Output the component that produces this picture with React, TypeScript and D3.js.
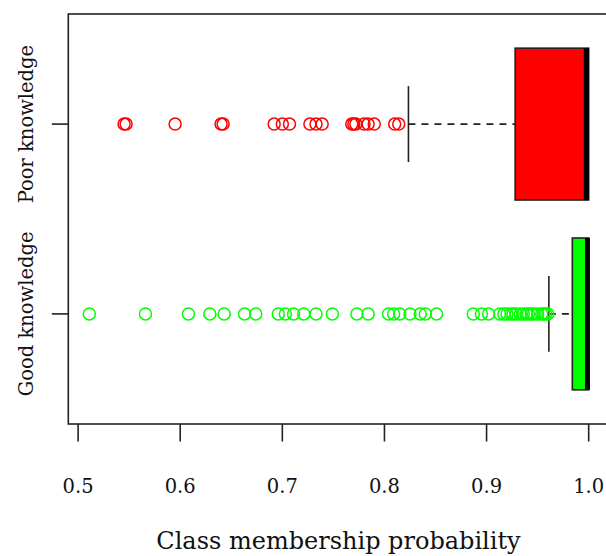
import React from 'react';
import * as d3 from 'd3';

// group labels (bottom to top, like R boxplot positions 1, 2)
const groups = ['Good knowledge', 'Poor knowledge'];
const fills = ['#00ff00', '#ff0000'];

// five number summary per group: lower whisker, q1, median, q3, upper whisker
const lowWhisker = [0.961, 0.8235];
const q1 = [0.984, 0.928];
const median = [0.9988, 0.9977];
const q3 = [1.0, 1.0];
const highWhisker = [1.0, 1.0];

const goodOutliers = [
  0.511, 0.566, 0.608, 0.629, 0.643, 0.663, 0.674, 0.696, 0.703, 0.711, 0.721,
  0.733, 0.749, 0.773, 0.784, 0.804, 0.809, 0.815, 0.825, 0.835, 0.84, 0.851,
  0.887, 0.895, 0.902, 0.913, 0.917, 0.92, 0.924, 0.926, 0.929, 0.933, 0.936,
  0.939, 0.941, 0.944, 0.946, 0.95, 0.954, 0.956, 0.958, 0.96,
];
const poorOutliers = [
  0.545, 0.547, 0.595, 0.64, 0.642, 0.692, 0.7, 0.707, 0.727, 0.733, 0.739,
  0.768, 0.77, 0.772, 0.78, 0.784, 0.79, 0.81, 0.814,
];
const outliers = [goodOutliers, poorOutliers];

const xTicks = [0.5, 0.6, 0.7, 0.8, 0.9, 1.0];
const xTitle = 'Class membership probability';

const W = 606;
const H = 556;
const left = 68.3;
const right = 608.7;
const top = 14;
const bottom = 424;

export default function App() {
  const x = d3.scaleLinear().domain([0.4904, 1.0196]).range([left, right]);
  const y = d3.scaleLinear().domain([0.42, 2.58]).range([bottom, top]);
  const boxHalf = y(0) - y(0.4);
  const stapleHalf = y(0) - y(0.2);
  const axisCol = '#222';
  const font = 'DejaVu Serif';

  return (
    <svg
      width={W}
      height={H}
      style={{ position: 'fixed', left: 0, top: 0, background: '#fff' }}
    >
      {groups.map((g, i) => {
        const cy = y(i + 1);
        return (
          <g key={g}>
            {/* whisker */}
            <line x1={x(lowWhisker[i])} x2={x(q1[i])} y1={cy} y2={cy}
              stroke={axisCol} strokeWidth={1.6} strokeDasharray="7,6" />
            <line x1={x(q3[i])} x2={x(highWhisker[i])} y1={cy} y2={cy}
              stroke={axisCol} strokeWidth={1.6} strokeDasharray="7,6" />
            {/* staples */}
            <line x1={x(lowWhisker[i])} x2={x(lowWhisker[i])}
              y1={cy - stapleHalf} y2={cy + stapleHalf} stroke={axisCol} strokeWidth={1.6} />
            {/* box */}
            <rect x={x(q1[i])} y={cy - boxHalf} width={x(q3[i]) - x(q1[i])}
              height={boxHalf * 2} fill={fills[i]} stroke={axisCol} strokeWidth={1.6} />
            <line x1={x(median[i])} x2={x(median[i])} y1={cy - boxHalf} y2={cy + boxHalf}
              stroke="#000" strokeWidth={5} />
            {/* outliers */}
            {outliers[i].map((v, k) => (
              <circle key={k} cx={x(v)} cy={cy} r={6} fill="none"
                stroke={fills[i]} strokeWidth={1.5} />
            ))}
            {/* y tick + label */}
            <line x1={left - 16.5} x2={left} y1={cy} y2={cy} stroke={axisCol} strokeWidth={1.6} />
            <text transform={`translate(32.5,${cy}) rotate(-90)`} textAnchor="middle"
              fontFamily={font} fontSize={19.5} fill="#111">{g}</text>
          </g>
        );
      })}

      {/* plot frame */}
      <rect x={left} y={top} width={right - left} height={bottom - top}
        fill="none" stroke={axisCol} strokeWidth={1.6} />

      {/* x axis */}
      {xTicks.map((t) => (
        <g key={t}>
          <line x1={x(t)} x2={x(t)} y1={bottom} y2={bottom + 17.5}
            stroke={axisCol} strokeWidth={1.6} />
          <text x={x(t)} y={493} textAnchor="middle" fontFamily={font}
            fontSize={19.5} fill="#111">{d3.format('.1f')(t)}</text>
        </g>
      ))}
      <text x={(left + right) / 2} y={549} textAnchor="middle" fontFamily={font}
        fontSize={24} fill="#111">{xTitle}</text>
    </svg>
  );
}
